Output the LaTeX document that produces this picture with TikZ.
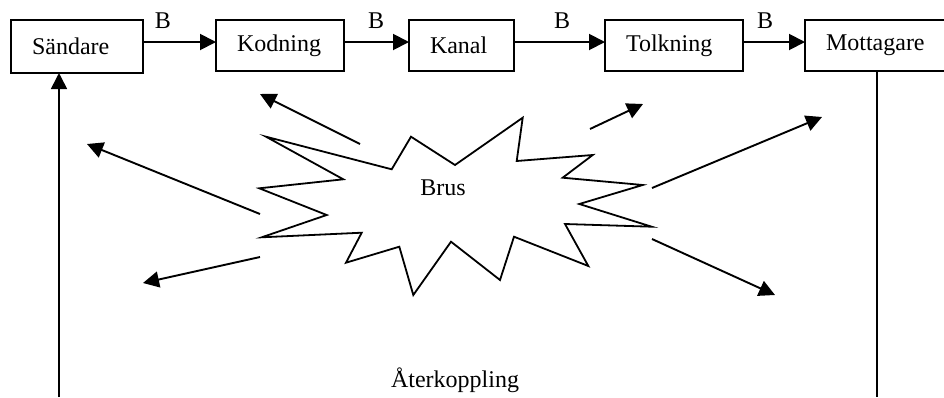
\documentclass[tikz,border=0pt]{standalone}
\usepackage{fontspec}
\setmainfont{Liberation Serif}
\usetikzlibrary{arrows.meta}
\begin{document}
\begin{tikzpicture}[x=1pt,y=-1pt,
  every node/.style={font=\fontsize{24}{28}\selectfont},
  box/.style={draw, line width=1.9pt, inner xsep=21pt, inner ysep=0pt, align=left, minimum height=51pt, outer sep=0pt},
  conn/.style={line width=1.9pt, -{Triangle[length=16pt,width=16pt]}},
  plain/.style={line width=1.6pt},
  lbl/.style={inner sep=0pt}]
\useasboundingbox (0,0) rectangle (944,397);
% boxes
\node[box, text width=90pt, minimum height=53pt] (sandare) at (77,46.5) {Sändare};
\node[box, text width=86pt] (kodning) at (280,45.5) {Kodning};
\node[box, text width=63pt] (kanal) at (461.5,45.5) {Kanal};
\node[box, text width=96pt] (tolkning) at (674,45.5) {Tolkning};
\node[box, text width=99pt] (mottagare) at (875.5,45.5) {Mottagare};
% forward connectors
\draw[conn] ([yshift=3.5pt]sandare.east |- kodning.west) -- ([yshift=3.5pt]kodning.west);
\draw[conn] ([yshift=3.5pt]kodning.east) -- ([yshift=3.5pt]kanal.west);
\draw[conn] ([yshift=3.5pt]kanal.east) -- ([yshift=3.5pt]tolkning.west);
\draw[conn] ([yshift=3.5pt]tolkning.east) -- ([yshift=3.5pt]mottagare.west);
% B labels
\node[lbl] (b1) at (163,21) {B};
\node[lbl] (b2) at (376,21) {B};
\node[lbl] (b3) at (562,21) {B};
\node[lbl] (b4) at (765,21) {B};
% starburst
\draw[line width=1.8pt, line join=miter]
  (266,136.7) -- (391.7,169.3) -- (411,136.7) -- (455,165) -- (522.7,117.7)
  -- (516.7,161) -- (592.7,155) -- (562.7,177.7) -- (642.7,185) -- (579.3,204)
  -- (651.7,226.7) -- (565,224) -- (588.3,266) -- (514,236.7) -- (500,280)
  -- (451,241.7) -- (413.3,295) -- (399.3,246.7) -- (346,262.7) -- (361.7,232.7)
  -- (261.7,237.3) -- (326.7,215) -- (259.3,188.3) -- (343.3,179.3) -- cycle;
\node[lbl] (brus) at (443,188) {Brus};
% noise arrows
\coordinate (n1s) at (360,144);  \coordinate (n1e) at (260,94);
\coordinate (n2s) at (590,129);  \coordinate (n2e) at (643,104);
\coordinate (n3s) at (260,214);  \coordinate (n3e) at (87,144);
\coordinate (n4s) at (260,257);  \coordinate (n4e) at (143,283);
\coordinate (n5s) at (652,188);  \coordinate (n5e) at (822,117);
\coordinate (n6s) at (652,239);  \coordinate (n6e) at (775,295);
\draw[conn] (n1s) -- (n1e);
\draw[conn] (n2s) -- (n2e);
\draw[conn] (n3s) -- (n3e);
\draw[conn] (n4s) -- (n4e);
\draw[conn] (n5s) -- (n5e);
\draw[conn] (n6s) -- (n6e);
% feedback
\coordinate (fbl) at (59,397);
\coordinate (fbr) at (877,397);
\draw[plain, -{Triangle[length=16pt,width=16pt]}] (fbl) -- (fbl |- sandare.south);
\draw[plain] (mottagare.south -| fbr) -- (fbr);
\node[lbl, anchor=base] (aterkoppling) at (455,387) {Återkoppling};
\end{tikzpicture}
\end{document}
